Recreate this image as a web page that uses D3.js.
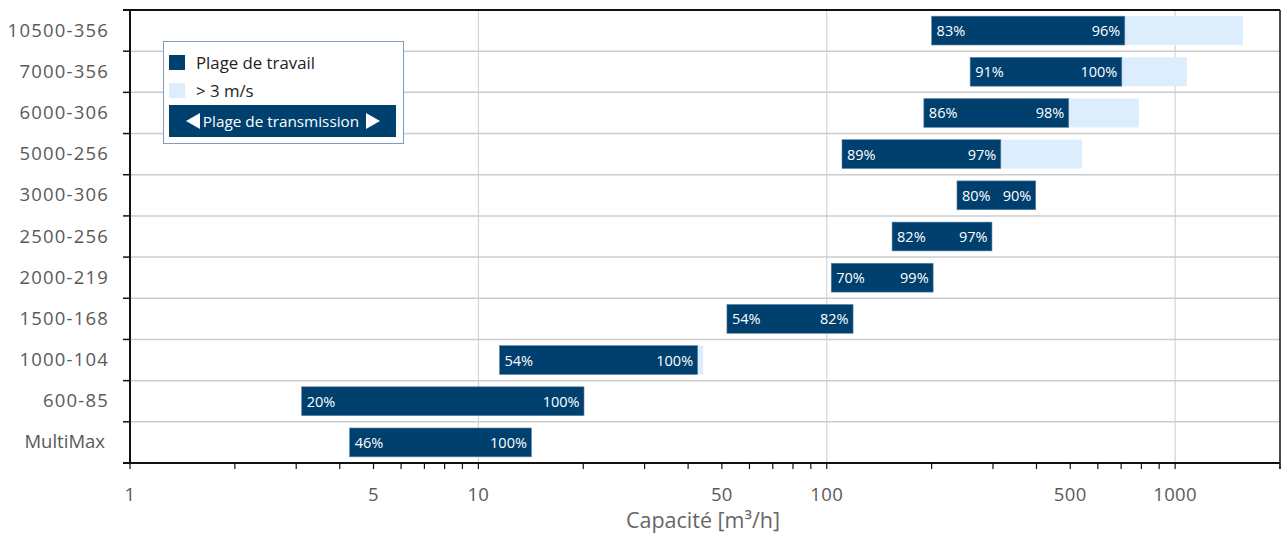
<!DOCTYPE html>
<html><head><meta charset="utf-8">
<script src="https://cdn.jsdelivr.net/npm/d3@7"></script>
<style>
html,body{margin:0;padding:0;background:#fff;}
svg{display:block;font-family:"Open Sans","Noto Sans",sans-serif;}
</style></head>
<body><svg id="c" width="1281" height="533"></svg>
<script>
const categories = ["10500-356","7000-356","6000-306","5000-256","3000-306","2500-256","2000-219","1500-168","1000-104","600-85","MultiMax"];
const workStart = [200, 258, 190, 110.6, 236.5, 154, 103, 51.7, 11.5, 3.11, 4.27];
const workEnd   = [717, 703, 495, 316, 398, 298, 202, 119, 42.6, 20.1, 14.2];
const fastEnd   = [1566, 1081, 787, 540, null, null, null, null, 44.2, null, null];
const startLabels = ["83%","91%","86%","89%","80%","82%","70%","54%","54%","20%","46%"];
const endLabels   = ["96%","100%","98%","97%","90%","97%","99%","82%","100%","100%","100%"];
const tickLabels = [1, 5, 10, 50, 100, 500, 1000];
const gridValues = [10, 100, 1000];
const legendItems = ["Plage de travail", "> 3 m/s"];
const legendBar = "Plage de transmission";
const axisTitle = "Capacité [m³/h]";

const dark = "#00406f", light = "#dcedfd", grid = "#cccccc", textCol = "#5a5a5a";
const L = 130, R = 1280, T = 10, B = 463;
const svg = d3.select("#c");
const x = d3.scaleLog().domain([1, 2000]).range([L, R]);
const y = d3.scaleBand().domain(categories).range([T, B]).padding(0);
const bw = y.bandwidth();

// horizontal gridlines
svg.append("g").selectAll("line").data(categories.slice(1)).join("line")
  .attr("x1", L).attr("x2", R).attr("y1", d => y(d)).attr("y2", d => y(d))
  .attr("stroke", grid).attr("stroke-width", 1.5);
// vertical gridlines
svg.append("g").selectAll("line").data(gridValues).join("line")
  .attr("x1", d => x(d)).attr("x2", d => x(d)).attr("y1", T).attr("y2", B)
  .attr("stroke", grid).attr("stroke-width", 1);

const rows = categories.map((c, i) => ({c, s: workStart[i], e: workEnd[i], f: fastEnd[i], sl: startLabels[i], el: endLabels[i]}));
// light bars
svg.append("g").selectAll("rect").data(rows.filter(d => d.f)).join("rect")
  .attr("x", d => x(d.e)).attr("width", d => x(d.f) - x(d.e))
  .attr("y", d => y(d.c) + bw * 0.15).attr("height", bw * 0.7)
  .attr("fill", light);
// dark bars
svg.append("g").selectAll("rect").data(rows).join("rect")
  .attr("x", d => x(d.s)).attr("width", d => x(d.e) - x(d.s))
  .attr("y", d => y(d.c) + bw * 0.15).attr("height", bw * 0.7)
  .attr("fill", dark).attr("stroke", "#5f83a6").attr("stroke-width", 0.6);
// labels
const lg = svg.append("g").attr("font-size", 14.5).attr("fill", "#fff");
lg.selectAll("text.s").data(rows).join("text").attr("class", "s")
  .attr("x", d => x(d.s) + 5).attr("y", d => y(d.c) + bw / 2 + 5.5).text(d => d.sl);
lg.selectAll("text.e").data(rows).join("text").attr("class", "e")
  .attr("x", d => x(d.e) - 4.5).attr("y", d => y(d.c) + bw / 2 + 5.5)
  .attr("text-anchor", "end").text(d => d.el);

// frame
svg.append("line").attr("x1", L - 7).attr("x2", R).attr("y1", T).attr("y2", T).attr("stroke", "#111").attr("stroke-width", 2);
svg.append("line").attr("x1", R).attr("x2", R).attr("y1", T).attr("y2", B).attr("stroke", "#111").attr("stroke-width", 1.5);

// y axis
const yAxis = svg.append("g").attr("transform", `translate(${L},0)`);
yAxis.append("line").attr("x1", 0).attr("x2", 0).attr("y1", T).attr("y2", B).attr("stroke", "#111").attr("stroke-width", 2);
yAxis.selectAll("line.t").data(categories.slice(1).concat([null])).join("line").attr("class", "t")
  .attr("x1", -7).attr("x2", 0).attr("y1", d => d ? y(d) : B).attr("y2", d => d ? y(d) : B)
  .attr("stroke", "#111").attr("stroke-width", 1.5);
yAxis.selectAll("text").data(categories).join("text")
  .attr("x", d => /\d/.test(d) ? -21 : -25).attr("y", d => y(d) + bw / 2 + 6)
  .attr("text-anchor", "end").attr("font-size", 18.5)
  .attr("letter-spacing", d => /\d/.test(d) ? 1.2 : 0)
  .attr("fill", textCol).text(d => d);

// x axis
const xAxis = svg.append("g").attr("transform", `translate(0,${B})`);
xAxis.append("line").attr("x1", L - 7).attr("x2", R).attr("stroke", "#111").attr("stroke-width", 2);
const minor = [];
[1, 10, 100, 1000].forEach(dec => { for (let k = 1; k <= 9; k++) { const v = dec * k; if (v <= 2000) minor.push(v); } });
minor.push(2000);
xAxis.selectAll("line.t").data(minor).join("line").attr("class", "t")
  .attr("x1", d => x(d)).attr("x2", d => x(d)).attr("y1", 0).attr("y2", 6)
  .attr("stroke", "#111").attr("stroke-width", 1.2);
xAxis.selectAll("text").data(tickLabels).join("text")
  .attr("x", d => x(d)).attr("y", 37.5).attr("text-anchor", "middle")
  .attr("font-size", 18.5).attr("letter-spacing", 0.4).attr("fill", textCol).text(d => d);
svg.append("text").attr("x", 703).attr("y", 528).attr("text-anchor", "middle")
  .attr("font-size", 21.5).attr("fill", "#666").text(axisTitle);

// legend
const leg = svg.append("g");
leg.append("rect").attr("x", 163.5).attr("y", 41.5).attr("width", 240).attr("height", 102)
  .attr("fill", "#fff").attr("stroke", "#7f9cba").attr("stroke-width", 1);
const lcols = [dark, light];
legendItems.forEach((t, i) => {
  leg.append("rect").attr("x", 169).attr("y", 55 + i * 28).attr("width", 16).attr("height", 15).attr("fill", lcols[i]);
  leg.append("text").attr("x", 196).attr("y", 69 + i * 28).attr("font-size", 16.8).attr("fill", "#222").text(t);
});
leg.append("rect").attr("x", 169).attr("y", 105).attr("width", 227).attr("height", 32).attr("fill", dark);
leg.append("path").attr("d", "M186,121 L200,113 L200,129 Z").attr("fill", "#fff");
leg.append("path").attr("d", "M380,121 L366,113 L366,129 Z").attr("fill", "#fff");
leg.append("text").attr("x", 281).attr("y", 126.5).attr("text-anchor", "middle")
  .attr("font-size", 15.3).attr("fill", "#fff").text(legendBar);
</script></body></html>
